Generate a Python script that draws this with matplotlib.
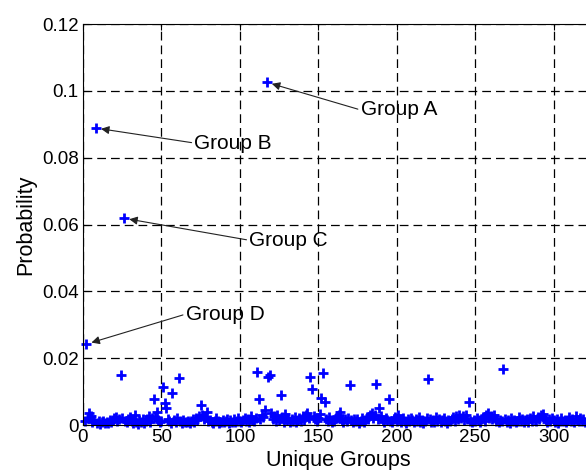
import numpy as np
import matplotlib.pyplot as plt

plt.rcParams['font.family'] = ['Liberation Sans', 'DejaVu Sans']

# probability of each unique group, group ids start at 1
probability = [
    0.0012, 0.0242, 0.0021, 0.0035, 0.0028, 0.0009, 0.0015, 0.0889, 0.0006, 0.0011,
    0.0004, 0.0008, 0.0013, 0.0005, 0.0010, 0.0007, 0.0016, 0.0009, 0.0014, 0.0020,
    0.0024, 0.0011, 0.0018, 0.0149, 0.0022, 0.0619, 0.0013, 0.0008, 0.0017, 0.0025,
    0.0012, 0.0006, 0.0030, 0.0010, 0.0004, 0.0015, 0.0009, 0.0019, 0.0007, 0.0012,
    0.0018, 0.0026, 0.0010, 0.0021, 0.0077, 0.0024, 0.0038, 0.0016, 0.0008, 0.0013,
    0.0113, 0.0065, 0.0050, 0.0019, 0.0011, 0.0007, 0.0095, 0.0014, 0.0009, 0.0020,
    0.0140, 0.0012, 0.0005, 0.0016, 0.0010, 0.0008, 0.0013, 0.0006, 0.0011, 0.0017,
    0.0009, 0.0022, 0.0014, 0.0027, 0.0060, 0.0031, 0.0018, 0.0025, 0.0038, 0.0012,
    0.0016, 0.0009, 0.0007, 0.0013, 0.0020, 0.0011, 0.0005, 0.0010, 0.0015, 0.0008,
    0.0012, 0.0019, 0.0006, 0.0014, 0.0010, 0.0017, 0.0009, 0.0013, 0.0021, 0.0011,
    0.0008, 0.0015, 0.0022, 0.0012, 0.0018, 0.0009, 0.0026, 0.0014, 0.0011, 0.0020,
    0.0160, 0.0078, 0.0017, 0.0029, 0.0023, 0.0044, 0.1026, 0.0143, 0.0150, 0.0035,
    0.0019, 0.0027, 0.0012, 0.0031, 0.0016, 0.0090, 0.0024, 0.0010, 0.0033, 0.0014,
    0.0021, 0.0008, 0.0017, 0.0012, 0.0025, 0.0009, 0.0015, 0.0020, 0.0011, 0.0028,
    0.0016, 0.0030, 0.0036, 0.0022, 0.0143, 0.0107, 0.0026, 0.0018, 0.0012, 0.0021,
    0.0034, 0.0080, 0.0155, 0.0068, 0.0019, 0.0011, 0.0024, 0.0015, 0.0009, 0.0013,
    0.0020, 0.0027, 0.0031, 0.0038, 0.0016, 0.0010, 0.0018, 0.0012, 0.0022, 0.0119,
    0.0014, 0.0008, 0.0017, 0.0011, 0.0019, 0.0006, 0.0013, 0.0021, 0.0009, 0.0015,
    0.0024, 0.0018, 0.0029, 0.0036, 0.0022, 0.0030, 0.0122, 0.0019, 0.0050, 0.0027,
    0.0014, 0.0010, 0.0021, 0.0016, 0.0077, 0.0012, 0.0008, 0.0018, 0.0025, 0.0011,
    0.0029, 0.0015, 0.0009, 0.0020, 0.0013, 0.0007, 0.0017, 0.0011, 0.0022, 0.0014,
    0.0008, 0.0019, 0.0012, 0.0025, 0.0010, 0.0016, 0.0006, 0.0013, 0.0021, 0.0137,
    0.0018, 0.0010, 0.0015, 0.0008, 0.0023, 0.0012, 0.0017, 0.0009, 0.0014, 0.0020,
    0.0011, 0.0007, 0.0016, 0.0012, 0.0019, 0.0024, 0.0013, 0.0028, 0.0018, 0.0031,
    0.0022, 0.0026, 0.0015, 0.0030, 0.0019, 0.0068, 0.0012, 0.0009, 0.0016, 0.0011,
    0.0020, 0.0014, 0.0008, 0.0018, 0.0025, 0.0013, 0.0029, 0.0036, 0.0021, 0.0026,
    0.0017, 0.0030, 0.0012, 0.0019, 0.0009, 0.0015, 0.0011, 0.0167, 0.0018, 0.0010,
    0.0014, 0.0007, 0.0020, 0.0012, 0.0016, 0.0009, 0.0013, 0.0024, 0.0011, 0.0017,
    0.0008, 0.0014, 0.0019, 0.0010, 0.0022, 0.0013, 0.0027, 0.0016, 0.0011, 0.0025,
    0.0018, 0.0029, 0.0033, 0.0021, 0.0014, 0.0009, 0.0017, 0.0012, 0.0020, 0.0015,
    0.0010, 0.0018, 0.0007, 0.0013, 0.0021, 0.0011, 0.0016, 0.0008, 0.0014, 0.0024,
    0.0012, 0.0019, 0.0009, 0.0027, 0.0015, 0.0011, 0.0020, 0.0013, 0.0017, 0.0010,
]
groups = np.arange(1, len(probability) + 1)

# labelled groups and their ids
labels = ['Group A', 'Group B', 'Group C', 'Group D']
label_ids = [117, 8, 26, 2]

fig = plt.figure(figsize=(5.86, 4.70), dpi=100)
ax = fig.add_axes([0.1416, 0.0957, 0.870, 0.853])

ax.plot(groups, probability, linestyle='none', marker='+', color='#0000ff',
        markersize=7, markeredgewidth=2.0, clip_on=False)

# text anchor for each label (data coords)
text_pos = [(177, 0.0943), (71, 0.0844), (106, 0.0553), (65.5, 0.0332)]
for lab, gid, (tx, ty) in zip(labels, label_ids, text_pos):
    ax.annotate(lab, xy=(gid, probability[gid - 1]), xytext=(tx, ty),
                fontsize=15, ha='left', va='center',
                arrowprops=dict(arrowstyle='-|>', color='#222222', lw=0.8,
                                mutation_scale=12, shrinkA=0, shrinkB=4,
                                relpos=(0, 0.5)))

ax.set_xlim(0, 325)
ax.set_ylim(0, 0.12)
ax.set_xticks([0, 50, 100, 150, 200, 250, 300])
ax.set_yticks([0, 0.02, 0.04, 0.06, 0.08, 0.1, 0.12])
ax.set_yticklabels(['0', '0.02', '0.04', '0.06', '0.08', '0.1', '0.12'])
ax.tick_params(direction='in', labelsize=13.5, top=True, right=True, length=4,
               pad=3)
ax.grid(True, color='black', linestyle=(0, (7, 4)), linewidth=0.9)
ax.set_axisbelow(True)
ax.set_xlabel('Unique Groups', fontsize=15.5, labelpad=3)
ax.set_ylabel('Probability', fontsize=15.5, labelpad=4)

fig.savefig('out.png', dpi=100)
